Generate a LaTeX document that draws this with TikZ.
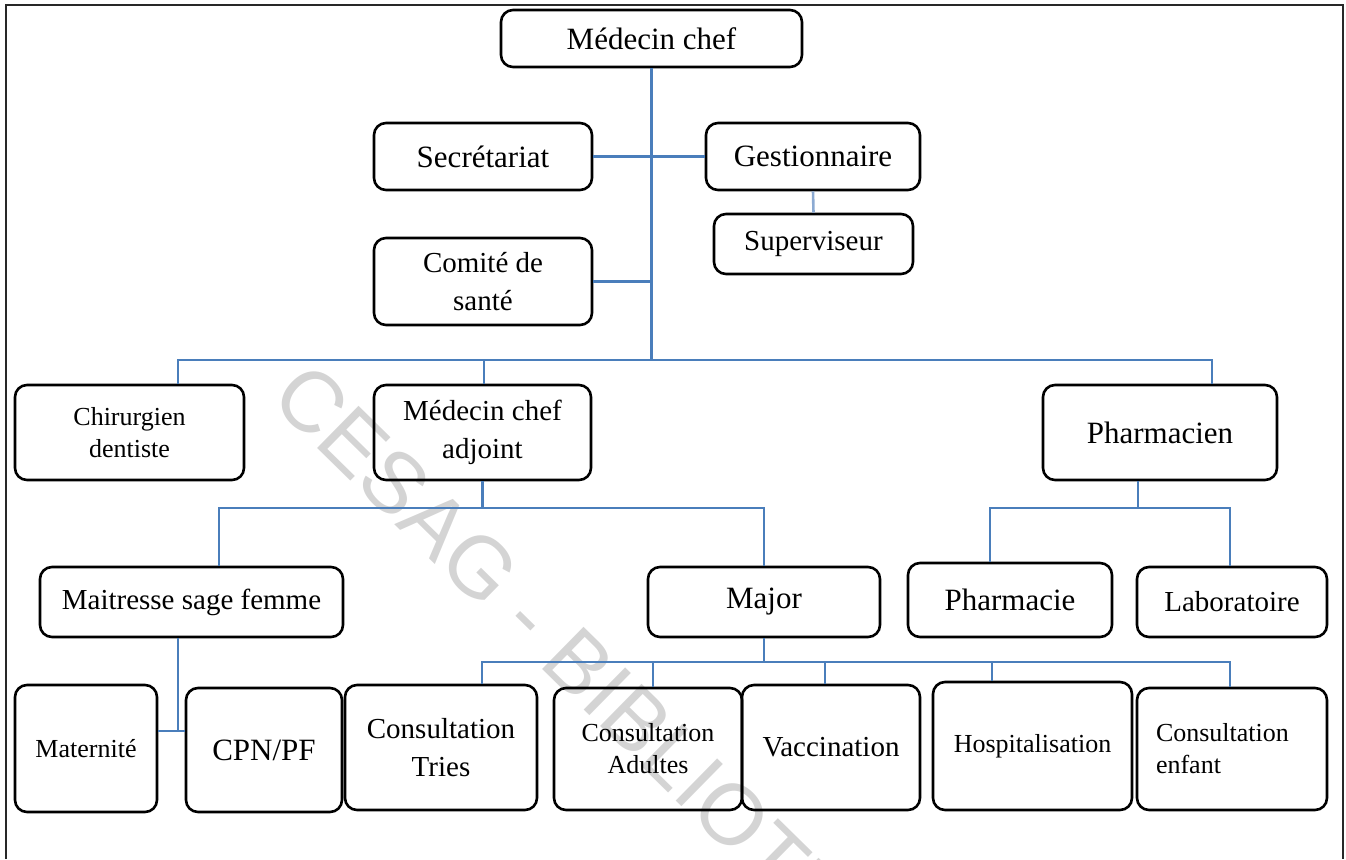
\documentclass[tikz,border=0pt]{standalone}
\usepackage{fontspec}
\setmainfont{Liberation Serif}
\newfontfamily\wmfont{Liberation Sans}
\definecolor{linkblue}{RGB}{74,126,187}
\definecolor{lightlink}{RGB}{140,170,210}
\definecolor{wmgray}{RGB}{212,212,212}
\definecolor{framegray}{RGB}{40,40,40}
\begin{document}
\begin{tikzpicture}[x=1pt,y=-1pt,
  box/.style={draw=black, line width=2.6pt, rounded corners=12pt, align=center, inner sep=0pt},
  conn/.style={draw=linkblue, line width=2.6pt},
  lightconn/.style={draw=lightlink, line width=2.6pt},
  fA/.style={font=\fontsize{31}{37}\selectfont},
  fB/.style={font=\fontsize{29}{38}\selectfont},
  fC/.style={font=\fontsize{26}{32}\selectfont},
  wm/.style={font=\wmfont\fontsize{86}{86}\selectfont, text=wmgray, inner sep=0pt}
]
\useasboundingbox (0,0) rectangle (1346,859);
% watermark
\begin{scope}
\clip (0,0) rectangle (1346,859);
\node[wm, rotate=-44.5, anchor=base west] (wmark) at (268,400) {CESAG - BIBLIOTHEQUE};
\end{scope}
% frame
\draw[framegray, line width=2pt] (6,859) -- (6,5) -- (1343,5) -- (1343,859);

% nodes
\node[box, fA, minimum width=301, minimum height=57] (mc) at (651.5,38.5) {Médecin chef};
\node[box, fA, minimum width=218, minimum height=67] (sec) at (483,156.5) {Secrétariat};
\node[box, fA, minimum width=214, minimum height=67] (gest) at (813,156.5) {Gestionnaire};
\node[box, fB, minimum width=199, minimum height=60] (sup) at (813.5,244) {Superviseur};
\node[box, fB, minimum width=218, minimum height=87] (com) at (483,281.5) {Comité de\\santé};
\node[box, fC, minimum width=229, minimum height=95] (chir) at (129.5,432.5) {Chirurgien\\dentiste};
\node[box, fB, minimum width=217, minimum height=95] (mca) at (482.5,432.5) {Médecin chef\\adjoint};
\node[box, fA, minimum width=234, minimum height=95] (pharm) at (1160,432.5) {Pharmacien};
\node[box, fB, minimum width=303, minimum height=70] (msf) at (191.5,602) {Maitresse sage femme};
\node[box, fA, minimum width=232, minimum height=70] (major) at (764,602) {Major};
\node[box, fA, minimum width=204, minimum height=74] (pharmacie) at (1010,600) {Pharmacie};
\node[box, fB, minimum width=190, minimum height=70] (labo) at (1232,602) {Laboratoire};
\node[box, fC, minimum width=142, minimum height=127] (mat) at (86,748.5) {Maternité};
\node[box, fA, minimum width=156, minimum height=124] (cpn) at (264,750) {CPN/PF};
\node[box, fB, minimum width=192, minimum height=125] (ctries) at (441,747.5) {Consultation\\Tries};
\node[box, fC, minimum width=188, minimum height=122] (cadul) at (648,749) {Consultation\\Adultes};
\node[box, fB, minimum width=178, minimum height=125] (vacc) at (831,747.5) {Vaccination};
\node[box, fC, minimum width=199, minimum height=128] (hosp) at (1032.5,746) {Hospitalisation};
\node[box, fC, minimum width=190, minimum height=122, text width=152, align=left] (cenf) at (1232,749) {Consultation\\enfant};

% junction coordinates
\coordinate (j1) at (651.5,360);
\coordinate (b1) at (178,360);
\coordinate (b2) at (1212,360);
\coordinate (bm) at (484,360);
\coordinate (c1) at (219,508);
\coordinate (c2) at (764,508);
\coordinate (cm) at (482.5,508);
\coordinate (pj) at (1138,508);
\coordinate (p1) at (990,508);
\coordinate (p2) at (1230,508);
\coordinate (m1) at (178,731);
\coordinate (q1) at (482,662);
\coordinate (q2) at (1230,662);
\coordinate (qm) at (764,662);
\coordinate (qa) at (653,662);
\coordinate (qv) at (825,662);
\coordinate (qh) at (992,662);

% connectors
\draw[conn] (mc.south) -- (j1);
\draw[conn] (sec.east) -- (gest.west);
\draw[conn] (com.east) -- (com.east -| j1);
\draw[lightconn] (gest.south) -- (sup.north);
\draw[conn] (b1 |- chir.north) -- (b1) -- (b2) -- (b2 |- pharm.north);
\draw[conn] (bm) -- (bm |- mca.north);
\draw[conn] (mca.south) -- (cm);
\draw[conn] (c1 |- msf.north) -- (c1) -- (c2) -- (major.north);
\draw[conn] (pj |- pharm.south) -- (pj);
\draw[conn] (p1 |- pharmacie.north) -- (p1) -- (p2) -- (p2 |- labo.north);
\draw[conn] (m1 |- msf.south) -- (m1);
\draw[conn] (mat.east |- m1) -- (cpn.west |- m1);
\draw[conn] (major.south) -- (qm);
\draw[conn] (q1 |- ctries.north) -- (q1) -- (q2) -- (q2 |- cenf.north);
\draw[conn] (qa) -- (qa |- cadul.north);
\draw[conn] (qv) -- (qv |- vacc.north);
\draw[conn] (qh) -- (qh |- hosp.north);
\end{tikzpicture}
\end{document}
